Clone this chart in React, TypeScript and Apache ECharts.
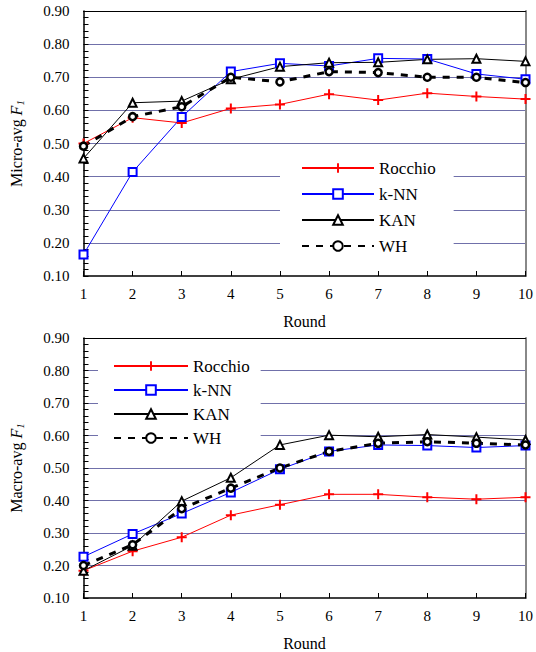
import React, { useEffect, useRef } from "react";
import * as echarts from "echarts";

const rounds = [1, 2, 3, 4, 5, 6, 7, 8, 9, 10];
const seriesNames = ["Rocchio", "k-NN", "KAN", "WH"];
const yTicks = [0.1, 0.2, 0.3, 0.4, 0.5, 0.6, 0.7, 0.8, 0.9];

const microRocchio = [0.5, 0.578, 0.562, 0.606, 0.618, 0.649, 0.631, 0.652, 0.642, 0.634];
const microKNN = [0.165, 0.414, 0.58, 0.717, 0.742, 0.734, 0.757, 0.755, 0.71, 0.694];
const microKAN = [0.455, 0.623, 0.628, 0.694, 0.732, 0.744, 0.745, 0.754, 0.756, 0.748];
const microWH = [0.492, 0.581, 0.611, 0.7, 0.686, 0.717, 0.714, 0.7, 0.7, 0.684];

const macroRocchio = [0.184, 0.244, 0.287, 0.355, 0.387, 0.419, 0.419, 0.41, 0.404, 0.41];
const macroKNN = [0.227, 0.297, 0.36, 0.425, 0.496, 0.551, 0.571, 0.569, 0.563, 0.569];
const macroKAN = [0.184, 0.261, 0.398, 0.47, 0.571, 0.601, 0.596, 0.603, 0.595, 0.586];
const macroWH = [0.2, 0.264, 0.375, 0.438, 0.5, 0.551, 0.576, 0.581, 0.576, 0.571];

const FONT = "Liberation Serif";
const GRID_COLOR = "#7070aa";
const PLUS = "path://M4,0L6,0L6,4L10,4L10,6L6,6L6,10L4,10L4,6L0,6L0,4L4,4Z";

function serif(size: number, extra: any = {}) {
  return { fontFamily: FONT, fontSize: size, color: "#000", ...extra };
}

function pairs(vals: number[]) {
  return vals.map((v, i) => [rounds[i], v]);
}

function makeSeries(idx: number, vals: number[][]) {
  const [r, k, a, w] = vals;
  const base = { type: "line", xAxisIndex: idx * 2, yAxisIndex: idx * 2, z: 3 };
  return [
    {
      ...base,
      name: seriesNames[0],
      data: pairs(r),
      symbol: PLUS,
      symbolSize: 10,
      itemStyle: { color: "#ff0000" },
      lineStyle: { color: "#ff0000", width: 1 },
    },
    {
      ...base,
      name: seriesNames[1],
      data: pairs(k),
      symbol: "rect",
      symbolSize: 8,
      itemStyle: { color: "#ffffff", borderColor: "#0000ff", borderWidth: 2 },
      lineStyle: { color: "#0000ff", width: 1 },
    },
    {
      ...base,
      name: seriesNames[2],
      data: pairs(a),
      symbol: "triangle",
      symbolSize: 8,
      itemStyle: { color: "#ffffff", borderColor: "#000000", borderWidth: 2 },
      lineStyle: { color: "#000000", width: 1 },
    },
    {
      ...base,
      name: seriesNames[3],
      data: pairs(w),
      symbol: "circle",
      symbolSize: 7,
      itemStyle: { color: "#ffffff", borderColor: "#000000", borderWidth: 2.5 },
      lineStyle: { color: "#000000", width: 3, type: [7, 7] },
    },
  ];
}

function axesFor(gridIndex: number, yName: string) {
  const xAxes = [
    {
      type: "value",
      gridIndex,
      min: 1,
      max: 10,
      interval: 1,
      position: "bottom",
      name: "Round",
      nameLocation: "middle",
      nameGap: 37,
      nameTextStyle: serif(16),
      axisLine: { show: true, lineStyle: { color: "#000", width: 1.5 } },
      axisTick: { show: true, inside: true, length: 5, lineStyle: { color: "#000" } },
      axisLabel: { ...serif(15), margin: 10 },
      splitLine: { show: false },
    },
    {
      type: "value",
      gridIndex,
      min: 1,
      max: 10,
      interval: 1,
      position: "top",
      axisLine: { show: true, lineStyle: { color: "#000", width: 1 } },
      axisTick: { show: false },
      axisLabel: { show: false },
      splitLine: { show: false },
    },
  ];
  const yAxes = [
    {
      type: "value",
      gridIndex,
      min: 0.1,
      max: 0.9,
      interval: 0.1,
      position: "left",
      name: yName,
      nameLocation: "middle",
      nameGap: 58,
      nameRotate: 90,
      nameTextStyle: {
        ...serif(16),
        rich: {
          a: serif(16),
          b: serif(16, { fontStyle: "italic" }),
          c: serif(11, { fontStyle: "italic", padding: [8, 0, 0, 0] }),
        },
      },
      axisLine: { show: true, lineStyle: { color: "#000", width: 1.5 } },
      axisTick: { show: true, inside: true, length: 5, lineStyle: { color: "#000" } },
      minorTick: { show: true, splitNumber: 5, length: 5, lineStyle: { color: "#000" } },
      axisLabel: {
        ...serif(15),
        margin: 14,
        formatter: (v: number) => {
          const t = yTicks.find((x) => Math.abs(x - v) < 1e-6);
          return (t ?? v).toFixed(2);
        },
      },
      splitLine: { show: true, showMinLine: false, showMaxLine: false, lineStyle: { color: GRID_COLOR, width: 1 } },
    },
    {
      type: "value",
      gridIndex,
      min: 0.1,
      max: 0.9,
      interval: 0.1,
      position: "right",
      axisLine: { show: true, lineStyle: { color: "#888", width: 2 } },
      axisTick: { show: false },
      axisLabel: { show: false },
      splitLine: { show: false },
    },
  ];
  return { xAxes, yAxes };
}

export default function App() {
  const ref = useRef<HTMLDivElement>(null);
  useEffect(() => {
    if (!ref.current) return;
    const chart = echarts.init(ref.current, undefined, { renderer: "svg" });
    const top = axesFor(0, "{a|Micro-avg }{b|F}{c|1}");
    const bot = axesFor(1, "{a|Macro-avg }{b|F}{c|1}");
    const legendCommon = {
      orient: "vertical",
      data: seriesNames,
      backgroundColor: "#ffffff",
      itemHeight: 12,
      selectedMode: false,
      textStyle: { ...serif(17), lineHeight: 18 },
      z: 10,
    };
    chart.setOption({
      animation: false,
      backgroundColor: "#ffffff",
      textStyle: { fontFamily: FONT },
      grid: [
        { left: 77, top: 11, width: 452, height: 265 },
        { left: 77, top: 338, width: 452, height: 265 },
      ],
      xAxis: [...top.xAxes, ...bot.xAxes],
      yAxis: [...top.yAxes, ...bot.yAxes],
      legend: [
        { ...legendCommon, left: 280, top: 150, itemWidth: 72, itemGap: 8, padding: [9, 18, 9, 21] },
        { ...legendCommon, left: 98, top: 350, itemWidth: 74, itemGap: 6, padding: [7, 11, 7, 15] },
      ],
      series: [
        ...makeSeries(0, [microRocchio, microKNN, microKAN, microWH]),
        ...makeSeries(1, [macroRocchio, macroKNN, macroKAN, macroWH]),
      ],
    });
    return () => chart.dispose();
  }, []);
  return (
    <div
      ref={ref}
      style={{ position: "absolute", left: 0, top: 0, width: 536, height: 652 }}
    />
  );
}
